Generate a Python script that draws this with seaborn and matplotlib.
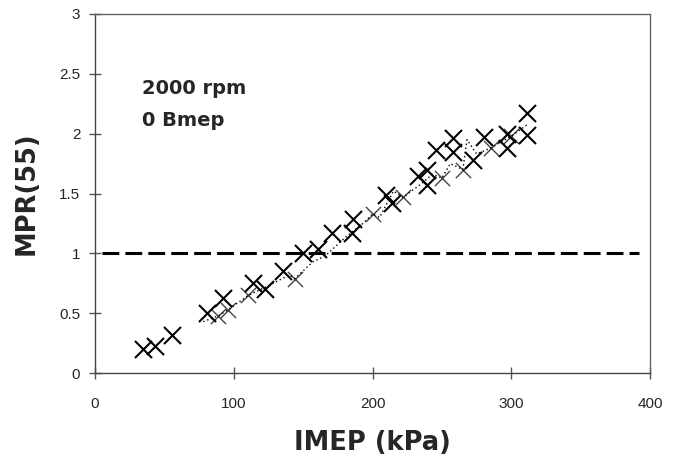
import matplotlib
matplotlib.use("Agg")
import matplotlib.pyplot as plt
import seaborn as sns
import pandas as pd

# Main measured points (X markers)
imep_main = [34.4, 43.2, 55.3, 80.5, 92.5, 113.6, 122.5, 135.7, 150, 160.5,
             170.6, 186.2, 185, 210, 213.8, 233, 239, 239, 246, 258, 258,
             272.6, 280, 296.7, 296.7, 311, 311]
mpr_main = [0.20, 0.23, 0.32, 0.50, 0.63, 0.75, 0.70, 0.85, 1.00, 1.04,
            1.17, 1.29, 1.17, 1.49, 1.42, 1.65, 1.70, 1.57, 1.86, 1.96, 1.85,
            1.78, 1.97, 2.00, 1.88, 2.17, 1.99]

# Second (dotted) trace
imep_dot = [78, 89, 96, 110.5, 125, 140, 144, 157, 166, 180, 193, 200, 205,
            215, 222, 235, 243, 250, 256, 265, 268, 275, 285, 300, 312]
mpr_dot = [0.43, 0.48, 0.53, 0.65, 0.73, 0.82, 0.79, 0.93, 0.98, 1.13, 1.25,
           1.33, 1.30, 1.52, 1.47, 1.58, 1.66, 1.63, 1.75, 1.70, 1.95, 1.83,
           1.88, 1.98, 2.08]
imep_dot_mk = [89, 96, 110.5, 144, 200, 222, 250, 265, 285, 300]
mpr_dot_mk = [0.48, 0.53, 0.65, 0.79, 1.33, 1.47, 1.63, 1.70, 1.88, 1.98]

# Reference line
ref_x = [5, 392]
ref_y = [1.0, 1.0]

x_ticks = [0, 100, 200, 300, 400]
y_ticks = [0, 0.5, 1, 1.5, 2, 2.5, 3]
y_tick_labels = ["0", "0.5", "1", "1.5", "2", "2.5", "3"]

sns.set_style("white")
plt.rcParams["font.family"] = ["Liberation Sans", "DejaVu Sans"]

fig = plt.figure(figsize=(6.83, 4.63), dpi=100)
ax = fig.add_axes([0.139, 0.194, 0.813, 0.776])

df_dot = pd.DataFrame({"x": imep_dot, "y": mpr_dot})
sns.lineplot(data=df_dot, x="x", y="y", sort=False, estimator=None, ax=ax,
             color="black", linestyle=(0, (1, 2)), linewidth=1.0)
df_dmk = pd.DataFrame({"x": imep_dot_mk, "y": mpr_dot_mk})
sns.scatterplot(data=df_dmk, x="x", y="y", marker="x", s=120, color="#444444",
                linewidth=1.0, ax=ax)

df_ref = pd.DataFrame({"x": ref_x, "y": ref_y})
sns.lineplot(data=df_ref, x="x", y="y", ax=ax, color="black",
             linestyle=(0, (5.5, 2.0)), linewidth=2.2)

df_main = pd.DataFrame({"x": imep_main, "y": mpr_main})
sns.scatterplot(data=df_main, x="x", y="y", marker="x", s=150, color="black",
                linewidth=1.5, ax=ax)

ax.set_xlim(0, 400)
ax.set_ylim(0, 3)
ax.set_xticks(x_ticks)
ax.set_xticklabels([str(t) for t in x_ticks])
ax.set_yticks(y_ticks)
ax.set_yticklabels(y_tick_labels)
ax.tick_params(axis="x", direction="inout", length=8, width=1, color="#555555",
               labelsize=11, pad=13, bottom=True)
ax.tick_params(axis="y", direction="inout", length=9, width=1, color="#555555",
               labelsize=11, pad=6, left=True)

for sp in ax.spines.values():
    sp.set_visible(True)
    sp.set_color("#666666")
    sp.set_linewidth(1.0)
ax.spines["left"].set_color("#444444")
ax.spines["bottom"].set_color("#444444")

ax.set_xlabel("IMEP (kPa)", fontsize=18.5, fontweight="bold", labelpad=14,
              family=["DejaVu Sans"])
ax.set_ylabel("MPR(55)", fontsize=18.5, fontweight="bold", labelpad=14,
              family=["DejaVu Sans"])

ax.text(34, 2.38, "2000 rpm", fontsize=14, fontweight="bold", va="center",
        ha="left", family=["DejaVu Sans"])
ax.text(34, 2.11, "0 Bmep", fontsize=14, fontweight="bold", va="center",
        ha="left", family=["DejaVu Sans"])

fig.savefig("out.png", dpi=100)
